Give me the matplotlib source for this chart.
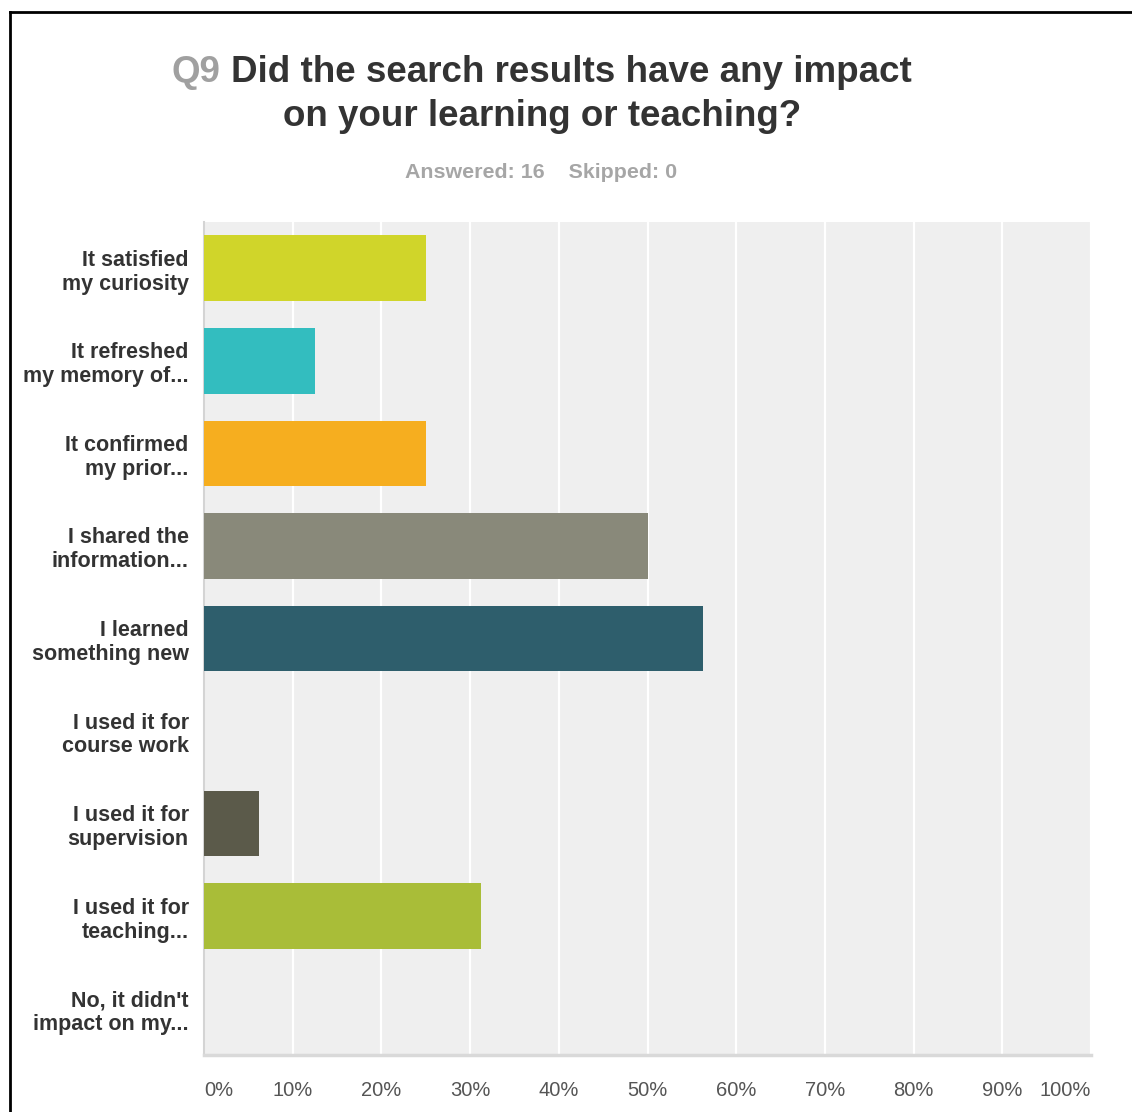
import matplotlib

matplotlib.use("Agg")
import matplotlib.pyplot as plt
from matplotlib.lines import Line2D
from matplotlib.ticker import FixedLocator

plt.rcParams["font.family"] = ["Liberation Sans", "DejaVu Sans"]

answer_labels = [
    "It satisfied\nmy curiosity",
    "It refreshed\nmy memory of...",
    "It confirmed\nmy prior...",
    "I shared the\ninformation...",
    "I learned\nsomething new",
    "I used it for\ncourse work",
    "I used it for\nsupervision",
    "I used it for\nteaching...",
    "No, it didn't\nimpact on my...",
]
answer_share = [25.0, 12.5, 25.0, 50.0, 56.25, 0.0, 6.25, 31.25, 0.0]
bar_colors = [
    "#d0d52a", "#33bdbf", "#f6ae1f", "#89897a", "#2e5e6c",
    "#6b9a3a", "#5b5a4a", "#a9bd38", "#d6a52b",
]
tick_values = list(range(0, 101, 10))
tick_labels = [f"{v}%" for v in tick_values]

W, H = 1132, 1112
fig = plt.figure(figsize=(W / 100, H / 100), dpi=100)
fig.patch.set_facecolor("white")

# plot area in pixel units
x0, x1, y0, y1 = 204, 1091, 222, 1055
ax = fig.add_axes([x0 / W, 1 - y1 / H, (x1 - x0) / W, (y1 - y0) / H])
ax.set_facecolor("#efefef")

rows = list(range(len(answer_labels)))
ax.barh(rows, answer_share, height=0.71, color=bar_colors, zorder=3)

ax.set_xlim(0, 100)
ax.set_ylim(len(answer_labels) - 0.5, -0.5)
ax.xaxis.set_major_locator(FixedLocator(tick_values))
ax.grid(axis="x", color="white", linewidth=1.6, zorder=1)
ax.set_axisbelow(True)

for side in ("top", "right"):
    ax.spines[side].set_visible(False)
ax.spines["left"].set_color("#d4d4d4")
ax.spines["left"].set_linewidth(1.5)
ax.spines["bottom"].set_color("#d9d9d9")
ax.spines["bottom"].set_linewidth(2.5)

ax.set_yticks(rows)
ax.set_yticklabels(answer_labels, fontsize=15.5, fontweight="bold",
                   color="#333333", linespacing=1.18)
ax.tick_params(axis="y", length=0, pad=11)

ax.set_xticks(tick_values)
ax.set_xticklabels([])
ax.tick_params(axis="x", length=0)
for v, lab in zip(tick_values, tick_labels):
    ha = "left" if v == 0 else ("right" if v == 100 else "center")
    ax.text(v, -35 / (y1 - y0), lab, transform=ax.get_xaxis_transform(),
            ha=ha, va="center", fontsize=14.5, color="#555555")

# title: question number in grey, question text in dark grey
fig.text(220 / W, 1 - 72 / H, "Q9", ha="right", va="center",
         fontsize=26.5, fontweight="bold", color="#a0a0a0")
fig.text(231 / W, 1 - 72 / H, "Did the search results have any impact",
         ha="left", va="center", fontsize=26.5, fontweight="bold", color="#333333")
fig.text(542 / W, 1 - 116 / H, "on your learning or teaching?",
         ha="center", va="center", fontsize=26.5, fontweight="bold", color="#333333")
fig.text(541 / W, 1 - 173 / H, "Answered: 16    Skipped: 0",
         ha="center", va="center", fontsize=15.4, fontweight="bold", color="#a6a6a6")

# frame lines along the left and top edges
fig.add_artist(Line2D([10 / W, 10 / W], [0, 1 - 12 / H], color="black",
                      linewidth=2, transform=fig.transFigure))
fig.add_artist(Line2D([10 / W, 1], [1 - 12 / H, 1 - 12 / H], color="black",
                      linewidth=2, transform=fig.transFigure))

fig.savefig("out.png", dpi=100)
